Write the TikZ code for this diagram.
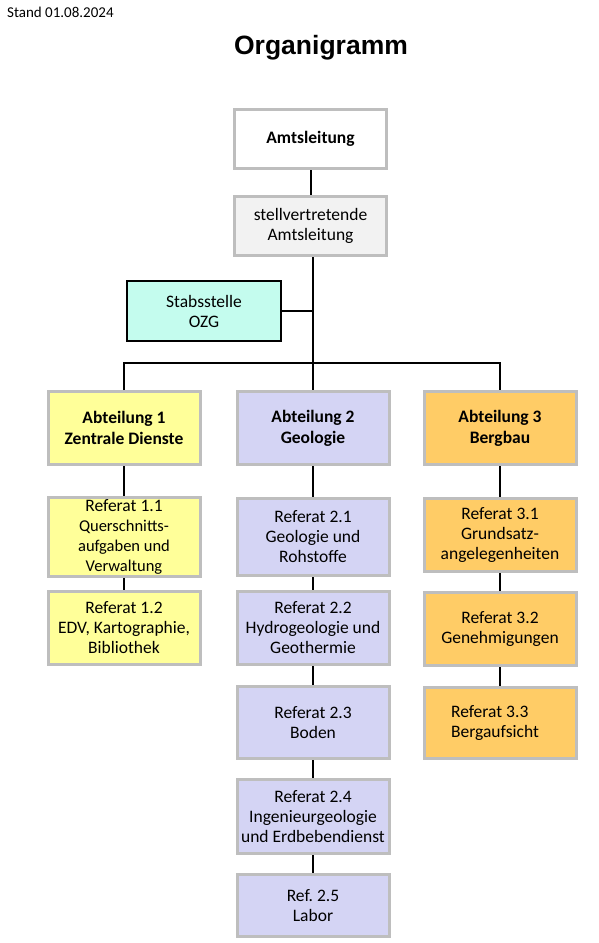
\documentclass[tikz,border=0pt]{standalone}
\usepackage{fontspec}
\setmainfont{Carlito}
\newfontfamily\headfont{Liberation Sans}
\usetikzlibrary{positioning}
\frenchspacing
\definecolor{rim}{HTML}{BEBEBE}
\definecolor{pale}{HTML}{F2F2F2}
\definecolor{mint}{HTML}{C4FCEE}
\definecolor{yel}{HTML}{FFFF99}
\definecolor{lav}{HTML}{D4D4F4}
\definecolor{ora}{HTML}{FFCC66}
\tikzset{
  unit/.style={draw=rim,line width=3pt,fill=white,minimum width=152pt,minimum height=59pt,inner sep=2pt,align=center,font=\fontsize{17.5}{20}\selectfont},
  lead/.style={unit,font=\fontsize{17.5}{20}\selectfont\bfseries},
  stv/.style={unit,fill=pale},
  stab/.style={unit,draw=black,line width=2pt,fill=mint,minimum width=154pt,minimum height=60pt},
  abt/.style={unit,font=\fontsize{17.5}{21}\selectfont\bfseries,minimum height=73pt},
  refbox/.style={unit,minimum height=73pt},
  link/.style={draw=black,line width=2pt},
}
\newcommand{\smalltxt}{\fontsize{16.5}{19}\selectfont}
\begin{document}
\begin{tikzpicture}[x=1pt,y=-1pt]
\useasboundingbox[fill=white] (0,0) rectangle (599,943);
% head
\node[anchor=west,inner sep=0pt,font=\fontsize{15}{17}\selectfont] (stand) at (7,12) {Stand 01.08.2024};
\node[font=\headfont\fontsize{26.5}{30}\selectfont\bfseries] (title) at (321,48) {Organigramm};
% leitung
\node[lead] (amt) at (310.5,139) {Amtsleitung};
\node[stv] (stvl) at (310.5,226) {stellvertretende\\Amtsleitung};
\node[stab] (ozg) at (204,311) {Stabsstelle\\OZG};
\coordinate (bar) at (313,363);
\coordinate (bar1) at (124,363);
\coordinate (bar3) at (500,363);
% abteilungen
\node[abt,fill=yel] (abt1) at (124,428) {Abteilung 1\\Zentrale Dienste};
\node[abt,fill=lav] (abt2) at (313,428) {Abteilung 2\\Geologie};
\node[abt,fill=ora] (abt3) at (500,428) {Abteilung 3\\Bergbau};
% referate 1
\node[refbox,fill=yel,minimum height=77pt] (r11) at (124,537) {Referat 1.1\\{\smalltxt Querschnitts-}\\{\smalltxt aufgaben und}\\{\smalltxt Verwaltung}};
\node[refbox,fill=yel] (r12) at (124,628) {Referat 1.2\\EDV, Kartographie,\\Bibliothek};
% referate 2
\node[refbox,fill=lav,minimum height=77pt] (r21) at (313,537) {Referat 2.1\\Geologie und\\Rohstoffe};
\node[refbox,fill=lav] (r22) at (313,628) {Referat 2.2\\Hydrogeologie und\\Geothermie};
\node[refbox,fill=lav,minimum height=72pt] (r23) at (313,722.5) {Referat 2.3\\Boden};
\node[refbox,fill=lav,minimum height=74pt] (r24) at (313,816.5) {Referat 2.4\\Ingenieurgeologie\\und Erdbebendienst};
\node[refbox,fill=lav,minimum height=62pt] (r25) at (313,905.5) {Ref. 2.5\\Labor};
% referate 3
\node[refbox,fill=ora] (r31) at (500,535) {Referat 3.1\\Grundsatz-\\angelegenheiten};
\node[refbox,fill=ora] (r32) at (500,629) {Referat 3.2\\Genehmigungen};
\node[refbox,fill=ora,minimum height=71pt,align=left] (r33) at (500,723) {Referat 3.3\\Bergaufsicht\hspace*{10pt}};
% linien
\draw[link] (amt) -- (stvl);
\draw[link] (stvl.south -| bar) -- (bar);
\draw[link] (ozg.east) -- (ozg.east -| bar);
\draw[link] (abt1.north) -- (bar1) -- (bar3) -- (abt3.north);
\draw[link] (bar) -- (abt2.north);
\foreach \a/\b in {abt1/r11,r11/r12,abt2/r21,r21/r22,r22/r23,r23/r24,r24/r25,abt3/r31,r31/r32,r32/r33}
  \draw[link] (\a) -- (\b);
\end{tikzpicture}
\end{document}
